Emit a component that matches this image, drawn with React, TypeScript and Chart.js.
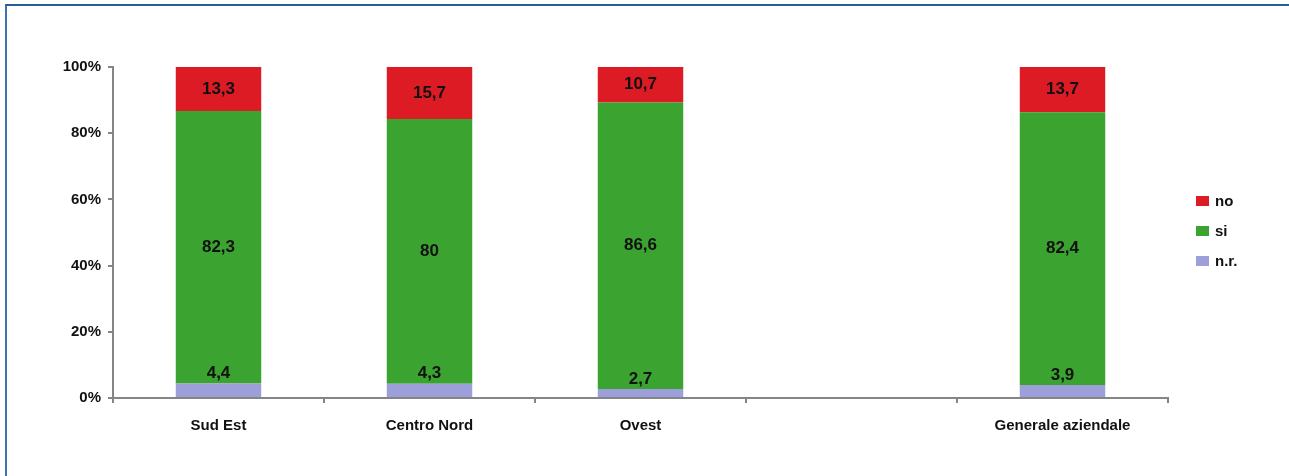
import React, { useEffect, useRef } from "react";
import { Chart, registerables } from "chart.js";

Chart.register(...registerables);

// Survey answers by area (percent of respondents)
const categories = ["Sud Est", "Centro Nord", "Ovest", "", "Generale aziendale"];
const nrValues: (number | null)[] = [4.4, 4.3, 2.7, null, 3.9];
const siValues: (number | null)[] = [82.3, 80, 86.6, null, 82.4];
const noValues: (number | null)[] = [13.3, 15.7, 10.7, null, 13.7];
const seriesNames = ["n.r.", "si", "no"];
const seriesColors = ["#9c9fd9", "#3ba32f", "#dc1b24"];
const yTickValues = [0, 20, 40, 60, 80, 100];

const FONT_FAMILY = "'Liberation Sans', Arial, sans-serif";

const fmt = (v: number) => String(v).replace(".", ",");

// Writes the value of each segment on the bars
const valueLabels = {
  id: "valueLabels",
  afterDatasetsDraw(chart: any) {
    const ctx = chart.ctx;
    ctx.save();
    ctx.font = `bold 17px ${FONT_FAMILY}`;
    ctx.fillStyle = "#111";
    ctx.textAlign = "center";
    ctx.textBaseline = "middle";
    chart.data.datasets.forEach((ds: any, di: number) => {
      const meta = chart.getDatasetMeta(di);
      meta.data.forEach((bar: any, i: number) => {
        const v = ds.data[i];
        if (v == null) return;
        const { x, y, base } = bar.getProps(["x", "y", "base"], true);
        const ty = di === 0 ? y - 10 : (y + base) / 2;
        ctx.fillText(fmt(v), x, ty);
      });
    });
    ctx.restore();
  },
};

// Legend on the right, top entry is the last series
const sideLegend = {
  id: "sideLegend",
  afterDraw(chart: any) {
    const ctx = chart.ctx;
    const left = chart.chartArea.right + 28;
    const top = 201;
    const step = 30;
    ctx.save();
    ctx.font = `bold 15px ${FONT_FAMILY}`;
    ctx.textBaseline = "middle";
    ctx.textAlign = "left";
    const n = chart.data.datasets.length;
    for (let k = 0; k < n; k++) {
      const ds = chart.data.datasets[n - 1 - k];
      const cy = top + k * step;
      ctx.fillStyle = ds.backgroundColor;
      ctx.fillRect(left, cy - 5, 13, 10);
      ctx.fillStyle = "#111";
      ctx.fillText(ds.label, left + 19, cy + 1);
    }
    ctx.restore();
  },
};

export default function App() {
  const canvasRef = useRef<HTMLCanvasElement | null>(null);

  useEffect(() => {
    if (!canvasRef.current) return;
    const chart = new Chart(canvasRef.current, {
      type: "bar",
      data: {
        labels: categories,
        datasets: [nrValues, siValues, noValues].map((data, i) => ({
          label: seriesNames[i],
          data,
          backgroundColor: seriesColors[i],
          borderWidth: 0,
          categoryPercentage: 1,
          barPercentage: 0.405,
        })),
      },
      options: {
        responsive: false,
        animation: false,
        layout: { padding: { top: 67, right: 121, left: 0, bottom: 0 } },
        plugins: {
          legend: { display: false },
          tooltip: { enabled: false },
        },
        scales: {
          x: {
            stacked: true,
            border: { display: true, color: "#858585", width: 2 },
            grid: {
              display: true,
              offset: true,
              drawOnChartArea: false,
              drawTicks: true,
              tickLength: 5,
              color: "#858585",
              lineWidth: 2,
            },
            ticks: {
              color: "#111",
              padding: 14,
              font: { family: FONT_FAMILY, size: 15, weight: "bold" },
              maxRotation: 0,
              autoSkip: false,
            },
            afterFit: (scale: any) => {
              scale.height = 78;
            },
          },
          y: {
            stacked: true,
            min: 0,
            max: 100,
            afterBuildTicks: (scale: any) => {
              scale.ticks = yTickValues.map((value) => ({ value }));
            },
            border: { display: true, color: "#858585", width: 2 },
            grid: {
              display: true,
              drawOnChartArea: false,
              drawTicks: true,
              tickLength: 5,
              color: "#858585",
              lineWidth: 2,
            },
            ticks: {
              color: "#111",
              padding: 7,
              font: { family: FONT_FAMILY, size: 15, weight: "bold" },
              callback: (v: any) => `${v}%`,
            },
            afterFit: (scale: any) => {
              scale.width = 113;
            },
          },
        },
      },
      plugins: [valueLabels, sideLegend],
    });
    return () => chart.destroy();
  }, []);

  return (
    <div
      style={{
        position: "absolute",
        left: 0,
        top: 0,
        width: 1289,
        height: 476,
        background: "#fff",
        overflow: "hidden",
      }}
    >
      <div
        style={{
          position: "absolute",
          left: 5,
          top: 4,
          right: -4,
          bottom: -4,
          borderTop: "2px solid #245d98",
          borderLeft: "2px solid #3b74b0",
        }}
      />
      <canvas
        ref={canvasRef}
        width={1289}
        height={476}
        style={{ position: "absolute", left: 0, top: 0, width: 1289, height: 476 }}
      />
    </div>
  );
}
